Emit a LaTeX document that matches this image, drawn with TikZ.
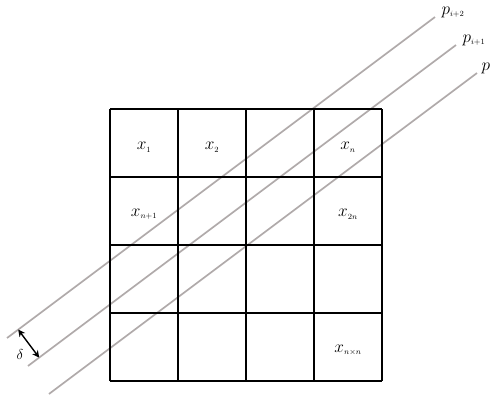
\documentclass[tikz,border=0pt]{standalone}
\usepackage{amsmath}
\usetikzlibrary{arrows.meta}
\definecolor{ink}{HTML}{000000}
\definecolor{rayg}{HTML}{B0AAAA}
\newcommand{\cellfont}{\fontsize{17}{20}\selectfont}
\newcommand{\rayfont}{\fontsize{17}{20}\selectfont}
\tikzset{
  every picture/.style = {line join=round},
  cellrule/.style      = {line width=2.8pt, ink},
  ray/.style           = {line width=1.7pt, rayg},
  cellname/.style      = {font=\cellfont, text=ink},
  rayname/.style       = {font=\rayfont, text=ink, anchor=base west},
  gapmark/.style       = {line width=1.4pt, ink, {Stealth[length=7pt,width=7pt]}-{Stealth[length=7pt,width=7pt]}},
}

\begin{document}
\begin{tikzpicture}[x=1pt, y=1pt]
  \def\Cell{68}\def\Ang{36.87}\def\Gap{35}\def\Len{535}   % cell side, ray angle, ray spacing, ray length
  \useasboundingbox (0,0) rectangle (492,396);

  % lower ends of the three parallel rays, one gap apart along the normal
  \coordinate (S2) at (7,58);
  \coordinate (S1) at ([shift={(\Ang-90:\Gap)}]S2);
  \coordinate (S0) at ([shift={(\Ang-90:\Gap)}]S1);
  \coordinate (E2) at ([shift={(\Ang:\Len)}]S2);
  \coordinate (E1) at ([shift={(\Ang:\Len)}]S1);
  \coordinate (E0) at ([shift={(\Ang:\Len)}]S0);

  \draw[ray] (S2) -- (E2);
  \draw[ray] (S1) -- (E1);
  \draw[ray] (S0) -- (E0);

  % the n x n grid sits on top of the rays
  \coordinate (G0) at (110,15);
  \coordinate (G1) at (382,287);
  \draw[cellrule, shift={(G0)}] (0,0) grid[step=\Cell] (4*\Cell,4*\Cell);

  % cell names
  \node[cellname] (c11) at (144,249) {$x_{\scriptscriptstyle 1}$};
  \node[cellname] (c12) at (212,249) {$x_{\scriptscriptstyle 2}$};
  \node[cellname] (c14) at (348,249) {$x_{\scriptscriptstyle n}$};
  \node[cellname] (c21) at (144,182) {$x_{\scriptscriptstyle n+1}$};
  \node[cellname] (c24) at (348,182) {$x_{\scriptscriptstyle 2n}$};
  \node[cellname] (c44) at (348,46)  {$x_{\scriptscriptstyle n\times n}$};

  % ray names, just past the upper ends
  \node[rayname] (p2) at ([shift={(3,3)}]E2) {$p_{\scriptscriptstyle i+2}$};
  \node[rayname] (p1) at ([shift={(3,3)}]E1) {$p_{\scriptscriptstyle i+1}$};
  \node[rayname] (p0) at ([shift={(1,3)}]E0) {$p$};

  % spacing between neighbouring rays
  \coordinate (D2) at ([shift={(\Ang:14)}]S2);
  \coordinate (D1) at ([shift={(\Ang-90:\Gap)}]D2);
  \draw[gapmark] (D2) -- (D1);
  \node[font=\fontsize{14}{16}\selectfont, text=ink] (gap) at (20,42) {$\delta$};
\end{tikzpicture}
\end{document}
